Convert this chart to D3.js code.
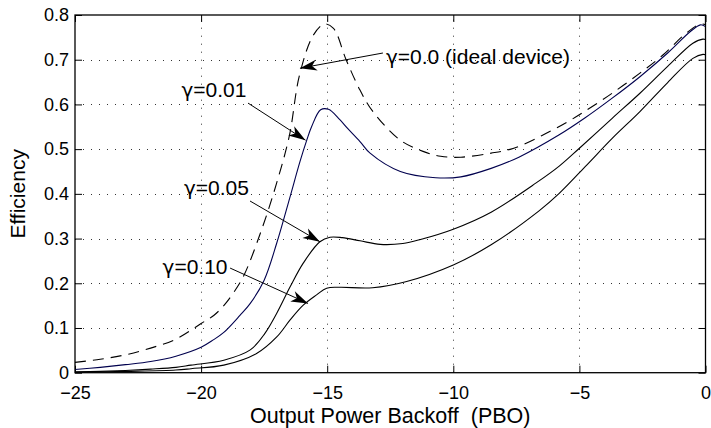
<!DOCTYPE html>
<html>
<head>
<meta charset="utf-8">
<script src="https://cdn.jsdelivr.net/npm/d3@7"></script>
<style>
  html, body { margin: 0; padding: 0; background: #fff; }
  svg { display: block; font-family: "Liberation Sans", Arial, Helvetica, sans-serif; }
</style>
</head>
<body>
<svg id="chart" width="711" height="428"></svg>
<script>
// ---- data ----
const xTicks = [-25, -20, -15, -10, -5, 0];
const yTicks = [0, 0.1, 0.2, 0.3, 0.4, 0.5, 0.6, 0.7, 0.8];
const xLabel = "Output Power Backoff  (PBO)";
const yLabel = "Efficiency";

// gamma = 0.0 (ideal device), dashed
const pbo0 = [-25, -24, -23, -22, -21, -20, -19.5, -19.1, -18.7, -18.3, -17.6, -17.0, -16.5, -16.1, -15.55, -15.1, -14.75, -14.25, -13.7, -13.2, -12.1, -11.2, -10.5, -9.7, -8.5, -7.6, -6.5, -5.5, -4.8, -3.7, -2.6, -1.7, -0.75, -0.2, 0];
const eff0 = [0.023, 0.03, 0.04, 0.055, 0.075, 0.11, 0.128, 0.15, 0.18, 0.218, 0.32, 0.425, 0.53, 0.665, 0.755, 0.78, 0.77, 0.70, 0.632, 0.585, 0.52, 0.495, 0.484, 0.482, 0.491, 0.502, 0.53, 0.56, 0.584, 0.625, 0.67, 0.71, 0.76, 0.78, 0.778];

// gamma = 0.01
const pbo1 = [-25, -24, -23, -22, -21, -20, -19.5, -19.1, -18.46, -18.05, -17.5, -17.0, -16.47, -16.08, -15.81, -15.62, -15.26, -14.95, -14.5, -14.2, -13.7, -13.3, -12.1, -10.7, -9.7, -8.5, -7.4, -5.8, -4.8, -3.7, -2.6, -1.5, -0.6, -0.2, 0];
const eff1 = [0.007, 0.012, 0.018, 0.025, 0.037, 0.057, 0.074, 0.09, 0.128, 0.155, 0.207, 0.29, 0.394, 0.472, 0.52, 0.55, 0.588, 0.589, 0.566, 0.547, 0.517, 0.491, 0.45, 0.436, 0.438, 0.457, 0.482, 0.532, 0.569, 0.614, 0.662, 0.715, 0.763, 0.778, 0.774];

// gamma = 0.05
const pbo5 = [-25, -24, -23, -22, -21, -20.4, -19.1, -18.05, -17.47, -17.0, -16.47, -15.95, -15.29, -14.89, -14.4, -13.7, -12.9, -12.0, -11.3, -10.0, -8.5, -6.7, -5.8, -5.0, -3.7, -2.6, -1.5, -0.5, -0.1, 0];
const eff5 = [0.002, 0.003, 0.005, 0.008, 0.012, 0.017, 0.028, 0.051, 0.088, 0.133, 0.192, 0.245, 0.293, 0.303, 0.302, 0.295, 0.287, 0.289, 0.298, 0.321, 0.359, 0.425, 0.462, 0.502, 0.569, 0.625, 0.685, 0.737, 0.746, 0.745];

// gamma = 0.10
const pbo10 = [-25, -23, -21, -20.4, -19.1, -17.8, -17.0, -16.47, -15.95, -15.42, -15.02, -14.5, -13.2, -11.85, -10.0, -8.5, -6.6, -5.8, -4.7, -3.7, -2.6, -1.5, -0.5, -0.1, 0];
const eff10 = [0.001, 0.003, 0.006, 0.009, 0.017, 0.043, 0.08, 0.118, 0.151, 0.174, 0.189, 0.191, 0.19, 0.204, 0.241, 0.286, 0.362, 0.401, 0.465, 0.524, 0.584, 0.649, 0.703, 0.712, 0.711];

const seriesNames = ["γ=0.0", "γ=0.01", "γ=0.05", "γ=0.10"];

// annotations: label text (gamma + rest), text anchor point, arrow tail, arrow tip (data units)
const annRest = ["=0.0 (ideal device)", "=0.01", "=0.05", "=0.10"];
const annTextX = [-12.67, -19.49, -19.39, -20.24];
const annTextY = [0.69, 0.617, 0.398, 0.221];
const annAnchor = ["start", "middle", "middle", "middle"];
const annTailX = [-12.79, -18.14, -18.06, -18.85];
const annTailY = [0.715, 0.603, 0.384, 0.234];
const annTipX = [-16.08, -15.86, -15.29, -15.76];
const annTipY = [0.681, 0.52, 0.293, 0.155];

// ---- drawing ----
const svg = d3.select("#chart");
const L = 75, R = 705.5, T = 15, B = 372.7;
const x = d3.scaleLinear().domain([-25, 0]).range([L, R]);
const y = d3.scaleLinear().domain([0, 0.8]).range([B, T]);

// grid
const grid = svg.append("g").attr("stroke", "#333").attr("stroke-width", 1).attr("stroke-dasharray", "1,7");
grid.selectAll("line.v").data(xTicks.slice(1, -1)).join("line")
  .attr("x1", d => Math.round(x(d)) + 0.5).attr("x2", d => Math.round(x(d)) + 0.5)
  .attr("y1", B).attr("y2", T);
grid.selectAll("line.h").data(yTicks.slice(1, -1)).join("line")
  .attr("y1", d => Math.round(y(d)) + 0.5).attr("y2", d => Math.round(y(d)) + 0.5)
  .attr("x1", L).attr("x2", R);

// axes
const fmtY = d => d === 0 ? "0" : d.toFixed(1);
const axB = svg.append("g").attr("transform", `translate(0,${B})`)
  .call(d3.axisBottom(x).tickValues(xTicks).tickSizeInner(-7).tickSizeOuter(0).tickPadding(13.5));
const axL = svg.append("g").attr("transform", `translate(${L},0)`)
  .call(d3.axisLeft(y).tickValues(yTicks).tickFormat(fmtY).tickSizeInner(-7).tickSizeOuter(0).tickPadding(6));
const axT = svg.append("g").attr("transform", `translate(0,${T})`)
  .call(d3.axisTop(x).tickValues(xTicks).tickSizeInner(-7).tickSizeOuter(0).tickFormat(""));
const axR = svg.append("g").attr("transform", `translate(${R},0)`)
  .call(d3.axisRight(y).tickValues(yTicks).tickSizeInner(-7).tickSizeOuter(0).tickFormat(""));
[axB, axL, axT, axR].forEach(a => {
  a.select(".domain").remove();
  a.selectAll("text").attr("font-size", 18).attr("fill", "#000")
    .attr("font-family", "'Liberation Sans', Arial, sans-serif");
  a.selectAll("line").attr("stroke", "#000");
});

// curves
const line = d3.line().x(d => x(d[0])).y(d => y(d[1])).curve(d3.curveCatmullRom.alpha(0.5));
const series = [
  { xs: pbo0, ys: eff0, color: "#000", dash: "11,7" },
  { xs: pbo1, ys: eff1, color: "#00004e", dash: null },
  { xs: pbo5, ys: eff5, color: "#000", dash: null },
  { xs: pbo10, ys: eff10, color: "#000", dash: null }
];
svg.append("g").selectAll("path").data(series).join("path")
  .attr("d", s => line(s.xs.map((v, i) => [v, s.ys[i]])))
  .attr("fill", "none")
  .attr("stroke", s => s.color)
  .attr("stroke-width", 1.1)
  .attr("stroke-dasharray", s => s.dash)
  .attr("aria-label", (s, i) => seriesNames[i]);

// frame
svg.append("rect").attr("x", L).attr("y", T).attr("width", R - L).attr("height", B - T)
  .attr("fill", "none").attr("stroke", "#000").attr("stroke-width", 1.3);

// annotations
const ann = svg.append("g");
annRest.forEach((t, i) => {
  const tx = x(annTailX[i]), ty = y(annTailY[i]);
  const px = x(annTipX[i]), py = y(annTipY[i]);
  const ang = Math.atan2(py - ty, px - tx) * 180 / Math.PI;
  ann.append("line").attr("x1", tx).attr("y1", ty).attr("x2", px).attr("y2", py)
    .attr("stroke", "#000").attr("stroke-width", 1);
  const AL = 17, AW = 5.5;
  ann.append("path")
    .attr("transform", `translate(${px},${py}) rotate(${ang})`)
    .attr("d", `M0,0 L${-AL},${-AW} L${-AL * 0.72},0 L${-AL},${AW} Z`)
    .attr("fill", "#000");
  const txt = ann.append("text")
    .attr("x", x(annTextX[i])).attr("y", y(annTextY[i]))
    .attr("text-anchor", annAnchor[i])
    .attr("font-size", 21)
    .attr("fill", "#000")
    .style("white-space", "pre");
  txt.append("tspan").attr("font-family", "'DejaVu Sans', sans-serif").attr("font-size", 20).text("γ");
  txt.append("tspan").text(t);
});

// axis labels
svg.append("text").attr("x", (L + R) / 2).attr("y", 423).attr("text-anchor", "middle")
  .style("white-space", "pre")
  .attr("font-size", 21.5).attr("fill", "#000").text(xLabel);
svg.append("text").attr("transform", `translate(25,${(T + B) / 2}) rotate(-90)`)
  .attr("text-anchor", "middle").attr("font-size", 21).attr("fill", "#000").text(yLabel);
</script>
</body>
</html>
